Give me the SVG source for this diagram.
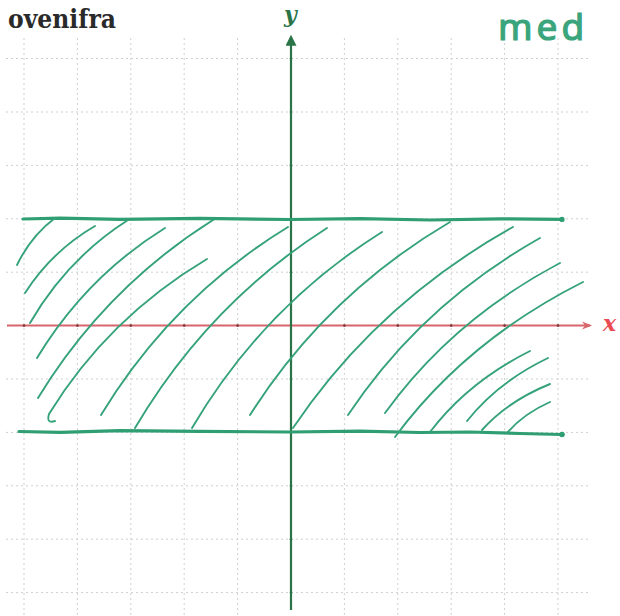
<svg xmlns="http://www.w3.org/2000/svg" width="620" height="616" viewBox="0 0 620 616">
<defs>
<style>
.grid{stroke:#cfcfcf;stroke-width:1;stroke-dasharray:2 3;fill:none}
.band{stroke:#2f9e72;stroke-width:3.2;fill:none;stroke-linecap:round;stroke-linejoin:round}
.hatch{stroke:#35a27a;stroke-width:1.9;fill:none;stroke-linecap:round}
.yaxis{stroke:#2a7447;stroke-width:2.2;fill:none}
.xaxis{stroke:#d8656b;stroke-width:2;fill:none}
.lbl{font-family:"DejaVu Serif","Liberation Serif",serif;font-style:italic;font-weight:bold}
</style>
<marker id="ya" viewBox="0 0 10 10" refX="8" refY="5" markerWidth="5" markerHeight="5" orient="auto"><path d="M0,0 L10,5 L0,10 Z" fill="#2a7447"/></marker>
<marker id="xa" viewBox="0 0 10 10" refX="8" refY="5" markerWidth="5" markerHeight="5" orient="auto"><path d="M0,1 L10,5 L0,9 L3,5 Z" fill="#d8656b"/></marker>
</defs>
<rect width="620" height="616" fill="#ffffff"/>
<g id="grid">
<path class="grid" d="M24,38V616M77.4,38V616M130.8,38V616M184.2,38V616M237.6,38V616M344.4,38V616M397.8,38V616M451.2,38V616M504.6,38V616M558,38V616"/>
<path class="grid" d="M6,58.5H590M6,112H590M6,165.4H590M6,218.8H590M6,272.2H590M6,379H590M6,432.4H590M6,485.8H590M6,539.2H590M6,592.6H590"/>
</g>
<g id="axes">
<path class="xaxis" d="M7,325.6H590" marker-end="url(#xa)"/>
<path class="yaxis" d="M291,610V37" marker-end="url(#ya)"/>
<g fill="#2a7447"><circle cx="291" cy="58.5" r="1.3"/><circle cx="291" cy="112" r="1.3"/><circle cx="291" cy="165.4" r="1.3"/><circle cx="291" cy="272.2" r="1.3"/><circle cx="291" cy="379" r="1.3"/><circle cx="291" cy="485.8" r="1.3"/><circle cx="291" cy="539.2" r="1.3"/><circle cx="291" cy="592.6" r="1.3"/></g>
<g fill="#7a3a3a"><circle cx="24" cy="325.6" r="1.3"/><circle cx="77.4" cy="325.6" r="1.3"/><circle cx="130.8" cy="325.6" r="1.3"/><circle cx="184.2" cy="325.6" r="1.3"/><circle cx="237.6" cy="325.6" r="1.3"/><circle cx="344.4" cy="325.6" r="1.3"/><circle cx="397.8" cy="325.6" r="1.3"/><circle cx="451.2" cy="325.6" r="1.3"/><circle cx="504.6" cy="325.6" r="1.3"/><circle cx="558" cy="325.6" r="1.3"/></g>
</g>
<g id="bands">
<path class="band" d="M23,219 L60,218.2 L120,219.3 L200,218.4 L290,219.5 L360,218.6 L430,220 L500,218.8 L562,219.4"/>
<path class="band" d="M19,431.5 L60,432.3 L120,430.6 L200,431.4 L290,432 L360,431.2 L420,432.5 L470,432 L520,433.5 L562,434.5"/>
<circle cx="562" cy="219.4" r="2.6" fill="#2f9e72"/>
<circle cx="562" cy="434.5" r="2.8" fill="#2f9e72"/>
</g>
<g id="hatching">
<path class="hatch" d="M17,265 Q31,236 55,218"/>
<path class="hatch" d="M25,293 Q52,251 95,226"/>
<path class="hatch" d="M30,323 Q67,259 128,220"/>
<path class="hatch" d="M37,358 Q86,277 165,228"/>
<path class="hatch" d="M38,398 Q105,288 213,220"/>
<path class="hatch" d="M55,421 Q46,424 49,414 Q108,318 207,259"/>
<path class="hatch" d="M101,415 Q172,298 288,227"/>
<path class="hatch" d="M135,428 Q208,304 327,228"/>
<path class="hatch" d="M192,428 Q264,306 382,232"/>
<path class="hatch" d="M250,415 Q326,295 450,222"/>
<path class="hatch" d="M293,428 Q377,303 513,227"/>
<path class="hatch" d="M348,415 Q421,305 540,238"/>
<path class="hatch" d="M385,413 Q452,320 560,263"/>
<path class="hatch" d="M395,437 Q466,341 583,282"/>
<path class="hatch" d="M430,432 Q468,382 530,351"/>
<path class="hatch" d="M467,421 Q498,382 548,358"/>
<path class="hatch" d="M482,430 Q508,401 550,384"/>
<path class="hatch" d="M507,433 Q523,414 550,402"/>
</g>
<g id="labels">
<text x="8" y="28" font-family="'DejaVu Serif','Liberation Serif',serif" font-weight="bold" font-size="26" fill="#2a2a2a" textLength="108" lengthAdjust="spacingAndGlyphs">ovenifra</text>
<text class="lbl" x="284" y="22" font-size="22" fill="#2a7447">y</text>
<text class="lbl" x="603" y="331" font-size="22" fill="#ea4a52">x</text>
<text x="498" y="40" font-family="'Noto Sans','DejaVu Sans',sans-serif" font-size="37" letter-spacing="4" fill="#3aa57c" stroke="#3aa57c" stroke-width="1.2">med</text>
</g>
</svg>
